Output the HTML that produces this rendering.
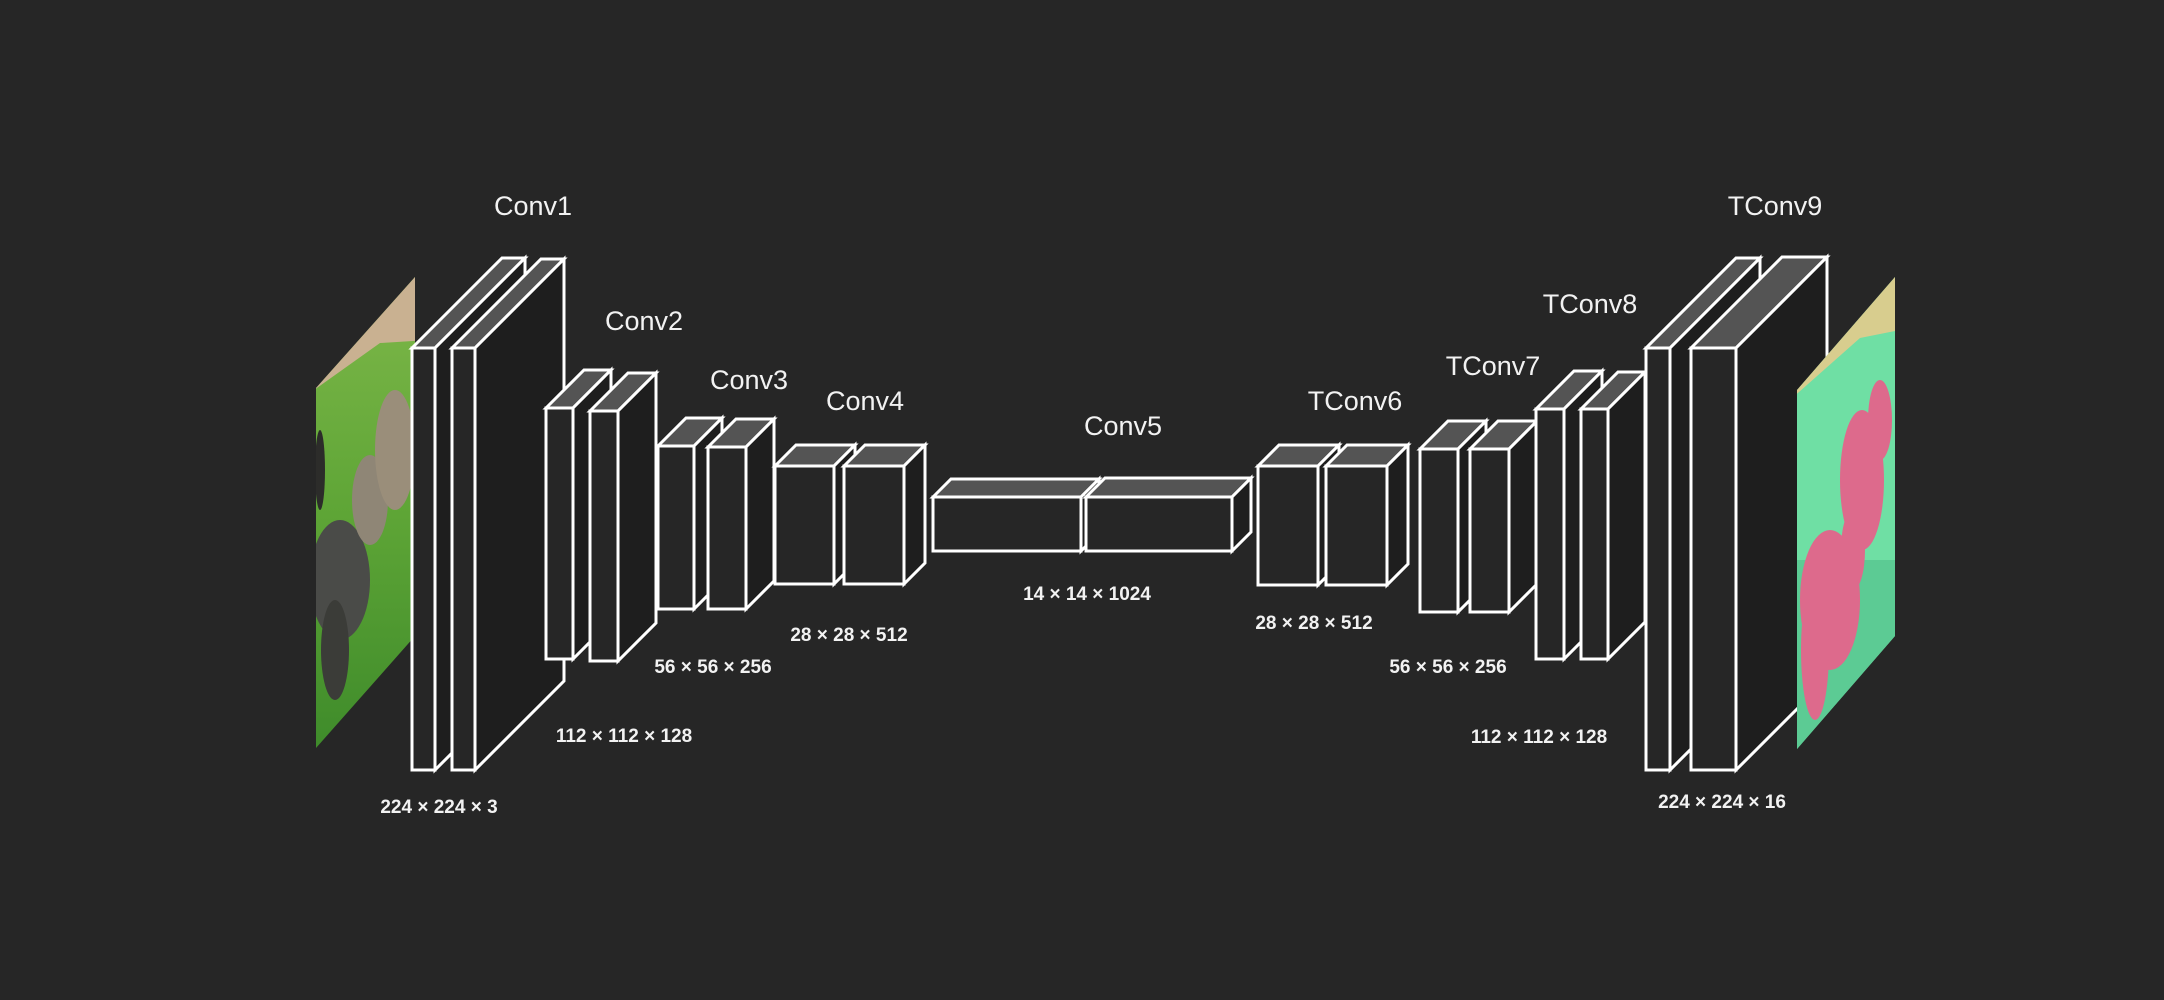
<!DOCTYPE html>
<html><head><meta charset="utf-8"><style>
html,body{margin:0;padding:0;background:#262626;}
svg{display:block;}
text{font-family:"Liberation Sans","DejaVu Sans",sans-serif;fill:#f2f2f2;text-anchor:middle;dominant-baseline:middle;}
.t{font-size:27px;}
.d{font-size:19px;font-weight:bold;}
</style></head><body>
<svg id="s" width="2164" height="1000" viewBox="0 0 2164 1000" xmlns="http://www.w3.org/2000/svg">
<defs>
<clipPath id="cin"><polygon points="316,388 415,277 415,636 316,748"/></clipPath>
<clipPath id="cout"><polygon points="1797,390 1895,277 1895,636 1797,749"/></clipPath>
<linearGradient id="grass" x1="0" y1="0" x2="0" y2="1">
<stop offset="0" stop-color="#7fb84a"/><stop offset="0.5" stop-color="#5ea536"/><stop offset="1" stop-color="#3d8a2a"/></linearGradient>
</defs>
<rect width="2164" height="1000" fill="#262626"/>
<g clip-path="url(#cin)">
<rect x="300" y="270" width="130" height="490" fill="url(#grass)"/>
<polygon points="300,270 430,270 430,340 380,343 300,400" fill="#c9b191"/>
<ellipse cx="340" cy="580" rx="30" ry="60" fill="#4a4b48"/>
<ellipse cx="370" cy="500" rx="18" ry="45" fill="#8f8676"/>
<ellipse cx="395" cy="450" rx="20" ry="60" fill="#9a8e7a"/>
<ellipse cx="335" cy="650" rx="14" ry="50" fill="#3b3c38"/>
<ellipse cx="320" cy="470" rx="5" ry="40" fill="#2c2c2a"/>
</g>
<g id="boxes"></g>
<g clip-path="url(#cout)">
<rect x="1790" y="270" width="110" height="490" fill="#6fdfa4"/>
<polygon points="1790,270 1900,270 1900,330 1860,338 1790,400" fill="#d8cd8e"/>
<rect x="1790" y="560" width="110" height="200" fill="#5ccb94"/>
<ellipse cx="1830" cy="600" rx="30" ry="70" fill="#dd6a8c"/>
<ellipse cx="1815" cy="650" rx="14" ry="70" fill="#dd6a8c"/>
<ellipse cx="1862" cy="480" rx="22" ry="70" fill="#dd6a8c"/>
<ellipse cx="1880" cy="420" rx="12" ry="40" fill="#dd6a8c"/>
<ellipse cx="1853" cy="550" rx="12" ry="40" fill="#dd6a8c"/>
</g>
<text class="t" x="533" y="208">Conv1</text>
<text class="t" x="644" y="323">Conv2</text>
<text class="t" x="749" y="382">Conv3</text>
<text class="t" x="865" y="403">Conv4</text>
<text class="t" x="1123" y="428">Conv5</text>
<text class="t" x="1355" y="403">TConv6</text>
<text class="t" x="1493" y="368">TConv7</text>
<text class="t" x="1590" y="306">TConv8</text>
<text class="t" x="1775" y="208">TConv9</text>
<text class="d" x="439" y="808">224 × 224 × 3</text>
<text class="d" x="624" y="737">112 × 112 × 128</text>
<text class="d" x="713" y="668">56 × 56 × 256</text>
<text class="d" x="849" y="636">28 × 28 × 512</text>
<text class="d" x="1087" y="595">14 × 14 × 1024</text>
<text class="d" x="1314" y="624">28 × 28 × 512</text>
<text class="d" x="1448" y="668">56 × 56 × 256</text>
<text class="d" x="1539" y="738">112 × 112 × 128</text>
<text class="d" x="1722" y="803">224 × 224 × 16</text>
</svg>
<script>
var B=[[412,348,23,422,90],[452,348,23,422,89],[546,408,27,251,38],[590,411,28,250,38],
[658,446,36,163,28],[708,447,38,162,28],[775,466,59,118,21],[844,466,60,118,21],
[933,497,148,54,18],[1086,497,146,54,19],[1258,466,60,119,21],[1326,466,61,119,21],
[1420,449,38,163,28],[1470,449,39,163,28],[1536,409,28,250,38],[1581,409,27,250,37],
[1646,348,24,422,90],[1691,348,45,422,91]];
var g=document.getElementById('boxes'),h='';
function P(a,f){return '<polygon points="'+a.map(function(p){return p.join(',')}).join(' ')+'" fill="'+f+'" stroke="#fff" stroke-width="3" stroke-linejoin="miter"/>';}
B.forEach(function(b){var x=b[0],y=b[1],w=b[2],H=b[3],d=b[4];
h+=P([[x,y],[x+d,y-d],[x+w+d,y-d],[x+w,y]],'#545454');
h+=P([[x+w,y],[x+w+d,y-d],[x+w+d,y+H-d],[x+w,y+H]],'#1e1e1e');
h+=P([[x,y],[x+w,y],[x+w,y+H],[x,y+H]],'#262626');});
g.innerHTML=h;
</script>
</body></html>
